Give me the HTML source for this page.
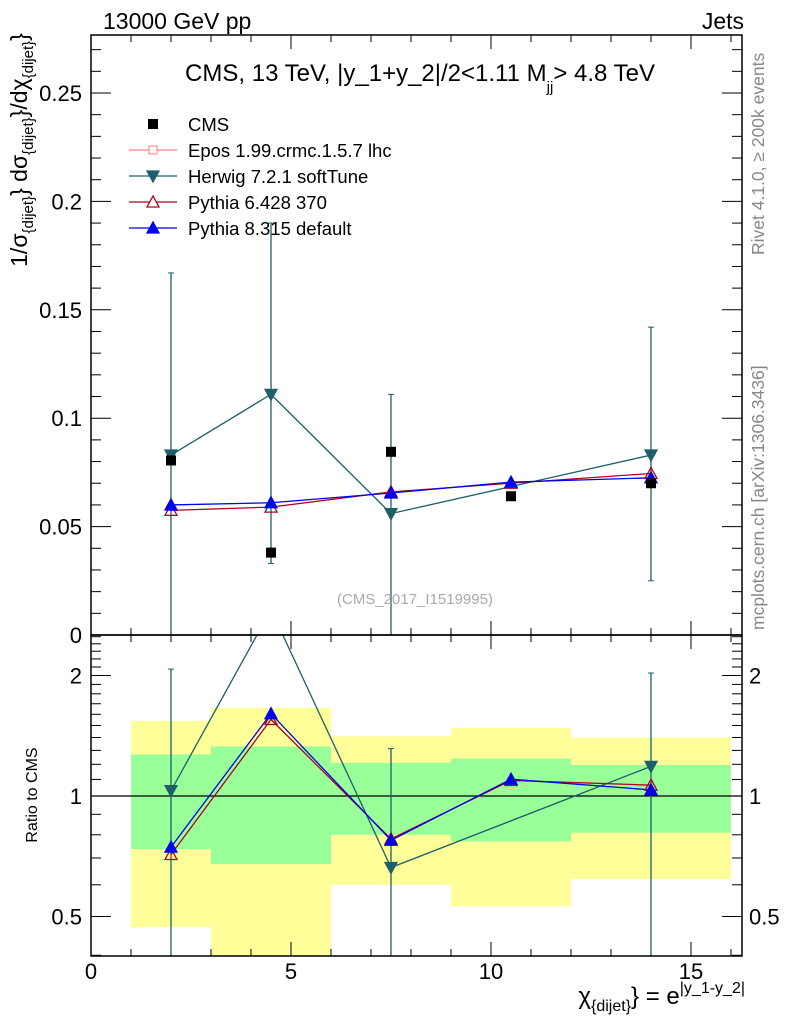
<!DOCTYPE html>
<html><head><meta charset="utf-8"><style>
html,body{margin:0;padding:0;background:#fff;}
svg{display:block;font-family:"Liberation Sans",sans-serif;}
</style></head><body>
<svg id="c" width="786" height="1024" viewBox="0 0 786 1024" xmlns="http://www.w3.org/2000/svg">
<rect width="786" height="1024" fill="#fff"/>
<g id="bands"></g><g id="ticks"></g><g id="series"></g>
<rect x="91" y="35" width="651" height="600" fill="none" stroke="#000" stroke-width="1.5"/>
<rect x="91" y="635" width="651" height="321" fill="none" stroke="#000" stroke-width="1.5"/>
<text x="103" y="29" font-size="23">13000 GeV pp</text>
<text x="744" y="29" font-size="23" text-anchor="end">Jets</text>
<text x="420" y="81" font-size="24" text-anchor="middle">CMS, 13 TeV, |y_1+y_2|/2&lt;1.11 M<tspan font-size="15" dy="11">jj</tspan><tspan dy="-11">&gt; 4.8 TeV</tspan></text>
<text x="415" y="604" font-size="15" fill="#aaa" text-anchor="middle">(CMS_2017_I1519995)</text>
<text transform="translate(764,255) rotate(-90)" font-size="17.5" fill="#888">Rivet 4.1.0, ≥ 200k events</text>
<text transform="translate(764,630) rotate(-90)" font-size="17.5" fill="#888">mcplots.cern.ch [arXiv:1306.3436]</text>
<text transform="translate(27,150) rotate(-90)" font-size="23" text-anchor="middle">1/σ<tspan font-size="15" dy="6">{dijet}</tspan><tspan dy="-6">} dσ</tspan><tspan font-size="15" dy="6">{dijet}</tspan><tspan dy="-6">}/dχ</tspan><tspan font-size="15" dy="6">{dijet}</tspan><tspan dy="-6">}</tspan></text>
<text transform="translate(37,795) rotate(-90)" font-size="16" text-anchor="middle">Ratio to CMS</text>
<text x="745" y="1004" font-size="24" text-anchor="end">χ<tspan font-size="16" dy="7">{dijet}</tspan><tspan dy="-7">} = e</tspan><tspan font-size="16" dy="-11">|y_1-y_2|</tspan></text>
<g id="legend"></g>
</svg>
<script>
const binEdges=[1,3,6,9,12,16];
const xPts=[2,4.5,7.5,10.5,14];
const cms=[0.0805,0.038,0.0845,0.064,0.070];
const herwigX=[2,4.5,7.5,14];
const herwig=[0.083,0.111,0.056,0.083];
const herwigUp=[0.167,0.19,0.111,0.142];
const herwigDn=[-0.01,0.033,-0.01,0.025];
const py6=[0.0575,0.059,0.066,0.070,0.0745];
const py8=[0.060,0.061,0.0655,0.0705,0.0725];
const bandYelHi=[1.54,1.66,1.41,1.48,1.40];
const bandYelLo=[0.47,0.35,0.60,0.53,0.62];
const bandGrnHi=[1.27,1.33,1.21,1.24,1.195];
const bandGrnLo=[0.737,0.676,0.80,0.77,0.81];
const xTicks=[0,5,10,15];
const yTicks=[0,0.05,0.1,0.15,0.2,0.25];
const yTickLabels=["0","0.05","0.1","0.15","0.2","0.25"];
const rTicks=[0.5,1,2];

const NS="http://www.w3.org/2000/svg";
const XR=742;
const X=v=>91+v*40;
const Y=v=>635-v*2168;
const R=v=>Math.max(635,Math.min(956,796-Math.log2(v)*120.5));
function mk(p,t,a){const e=document.createElementNS(NS,t);for(const k in a)e.setAttribute(k,a[k]);p.appendChild(e);return e;}
const gB=document.getElementById('bands'),gT=document.getElementById('ticks'),gS=document.getElementById('series'),gL=document.getElementById('legend');

for(let i=0;i<5;i++){
 let y1=R(bandYelHi[i]),y2=R(bandYelLo[i]);
 let e=mk(gB,'rect',{x:X(binEdges[i]),y:y1,width:X(binEdges[i+1])-X(binEdges[i]),height:y2-y1,fill:'#ffff99'});
 
 
 y1=R(bandGrnHi[i]);y2=R(bandGrnLo[i]);
 e=mk(gB,'rect',{x:X(binEdges[i]),y:y1,width:X(binEdges[i+1])-X(binEdges[i]),height:y2-y1,fill:'#99ff99'});
 
 
}
mk(gB,'line',{x1:91,x2:XR,y1:R(1),y2:R(1),stroke:'#000','stroke-width':1.2});

for(let v=0;v<=16;v++){
 const maj=v%5===0,L=maj?14:7;
 for(const [b,t] of [[635,35],[956,635]]){
  mk(gT,'line',{x1:X(v),x2:X(v),y1:b,y2:b-L,stroke:'#000'});
  mk(gT,'line',{x1:X(v),x2:X(v),y1:t,y2:t+L,stroke:'#000'});
 }
}
xTicks.forEach(v=>{const t=mk(gT,'text',{x:X(v),y:979,'font-size':22,'text-anchor':'middle'});t.textContent=v;
 
 });
for(let k=0;k<=27;k++){const v=k*0.01,maj=k%5===0,L=maj?20:10;
 mk(gT,'line',{x1:91,x2:91+L,y1:Y(v),y2:Y(v),stroke:'#000'});
 mk(gT,'line',{x1:XR,x2:XR-L,y1:Y(v),y2:Y(v),stroke:'#000'});}
yTicks.forEach((v,i)=>{const t=mk(gT,'text',{x:82,y:Y(v)+8,'font-size':22,'text-anchor':'end'});t.textContent=yTickLabels[i];
 
 });
[0.4,0.5,0.6,0.7,0.8,0.9,1,1.1,1.2,1.3,1.4,1.5,1.6,1.7,1.8,1.9,2,2.1,2.2,2.3,2.4,2.5].forEach(v=>{
 const maj=rTicks.includes(v),L=maj?20:10,y=R(v);
 mk(gT,'line',{x1:91,x2:91+L,y1:y,y2:y,stroke:'#000'});
 mk(gT,'line',{x1:XR,x2:XR-L,y1:y,y2:y,stroke:'#000'});});
rTicks.forEach(v=>{
 let t=mk(gT,'text',{x:82,y:R(v)+8,'font-size':22,'text-anchor':'end'});t.textContent=v;
 
 
 t=mk(gT,'text',{x:749,y:R(v)+8,'font-size':22});t.textContent=v;
 
 });

const HC='#1f5f6a',P6='#b00020',P8='#0000ee';
function tri(g,x,y,down,col,fill,name){const s=down?-1:1;
 const e=mk(g,'polygon',{points:`${x-6},${y+5*s} ${x+6},${y+5*s} ${x},${y-6*s}`,fill:fill,stroke:col,'stroke-width':1.3});
 
 }
function poly(g,pts,col,w){mk(g,'polyline',{points:pts.map(p=>p.join(',')).join(' '),fill:'none',stroke:col,'stroke-width':w});}
const defs=mk(document.getElementById('c'),'defs',{});
mk(mk(defs,'clipPath',{id:'cm'}),'rect',{x:91,y:35,width:651,height:600});
mk(mk(defs,'clipPath',{id:'cr'}),'rect',{x:91,y:635,width:651,height:321});
const main=mk(gS,'g',{'clip-path':'url(#cm)'});
const rat=mk(gS,'g',{'clip-path':'url(#cr)'});

herwigX.forEach((x,i)=>mk(main,'line',{x1:X(x),x2:X(x),y1:Y(herwigUp[i]),y2:Y(herwigDn[i]),stroke:HC,'stroke-width':1.3}));
herwigX.forEach((x,i)=>{mk(main,'line',{x1:X(x)-3,x2:X(x)+3,y1:Y(herwigUp[i]),y2:Y(herwigUp[i]),stroke:HC});mk(main,'line',{x1:X(x)-3,x2:X(x)+3,y1:Y(herwigDn[i]),y2:Y(herwigDn[i]),stroke:HC});});
poly(main,herwigX.map((x,i)=>[X(x),Y(herwig[i])]),HC,1.3);
poly(main,xPts.map((x,i)=>[X(x),Y(py6[i])]),P6,1.3);
poly(main,xPts.map((x,i)=>[X(x),Y(py8[i])]),P8,1.3);
herwigX.forEach((x,i)=>tri(main,X(x),Y(herwig[i]),true,HC,HC,'herwig-point'));
xPts.forEach((x,i)=>tri(main,X(x),Y(py6[i]),false,P6,'none','pythia6-point'));
xPts.forEach((x,i)=>tri(main,X(x),Y(py8[i]),false,P8,P8,'pythia8-point'));
xPts.forEach((x,i)=>{const e=mk(main,'rect',{x:X(x)-5,y:Y(cms[i])-5,width:10,height:10,fill:'#000'});
 
 });

const cmsAt=x=>cms[xPts.indexOf(x)];
herwigX.forEach((x,i)=>{const c=cmsAt(x),v=herwig[i]/c;
 if(v>2.52||v<0.4)return;
 const lo=herwigDn[i]>0?herwigDn[i]/c:0.01;
 mk(rat,'line',{x1:X(x),x2:X(x),y1:R(herwigUp[i]/c),y2:R(lo),stroke:HC,'stroke-width':1.3});
 mk(rat,'line',{x1:X(x)-3,x2:X(x)+3,y1:R(herwigUp[i]/c),y2:R(herwigUp[i]/c),stroke:HC});});
const rp=(arr,xs)=>xs.map((x,i)=>[X(x),796-Math.log2(arr[i]/cmsAt(x))*120.5]);
poly(rat,rp(herwig,herwigX),HC,1.3);
poly(rat,rp(py6,xPts),P6,1.3);
poly(rat,rp(py8,xPts),P8,1.3);
rp(herwig,herwigX).forEach(p=>tri(rat,p[0],p[1],true,HC,HC,'herwig-ratio-point'));
rp(py6,xPts).forEach(p=>tri(rat,p[0],p[1],false,P6,'none','pythia6-ratio-point'));
rp(py8,xPts).forEach(p=>tri(rat,p[0],p[1],false,P8,P8,'pythia8-ratio-point'));

const leg=[['CMS','#000','sq'],['Epos 1.99.crmc.1.5.7 lhc','#ff7f7f','cross'],['Herwig 7.2.1 softTune',HC,'down'],['Pythia 6.428 370',P6,'up-open'],['Pythia 8.315 default',P8,'up']];
leg.forEach((l,i)=>{const y=124+i*26;
 const g=mk(gL,'g',{});
 
 
 if(l[2]==='sq'){mk(g,'rect',{x:148,y:y-5,width:10,height:10,fill:'#000'});}
 else{mk(g,'line',{x1:129,x2:177,y1:y,y2:y,stroke:l[1],'stroke-width':1.3});
  if(l[2]==='cross'){mk(g,'rect',{x:149,y:y-4,width:8,height:8,fill:'#fff',stroke:l[1]});}
  else tri(g,153,y,l[2]==='down',l[1],l[2]==='up-open'?'#fff':l[1],'legend-marker');}
 const t=mk(g,'text',{x:188,y:y+7,'font-size':18.5});t.textContent=l[0];});
</script>
</body></html>
